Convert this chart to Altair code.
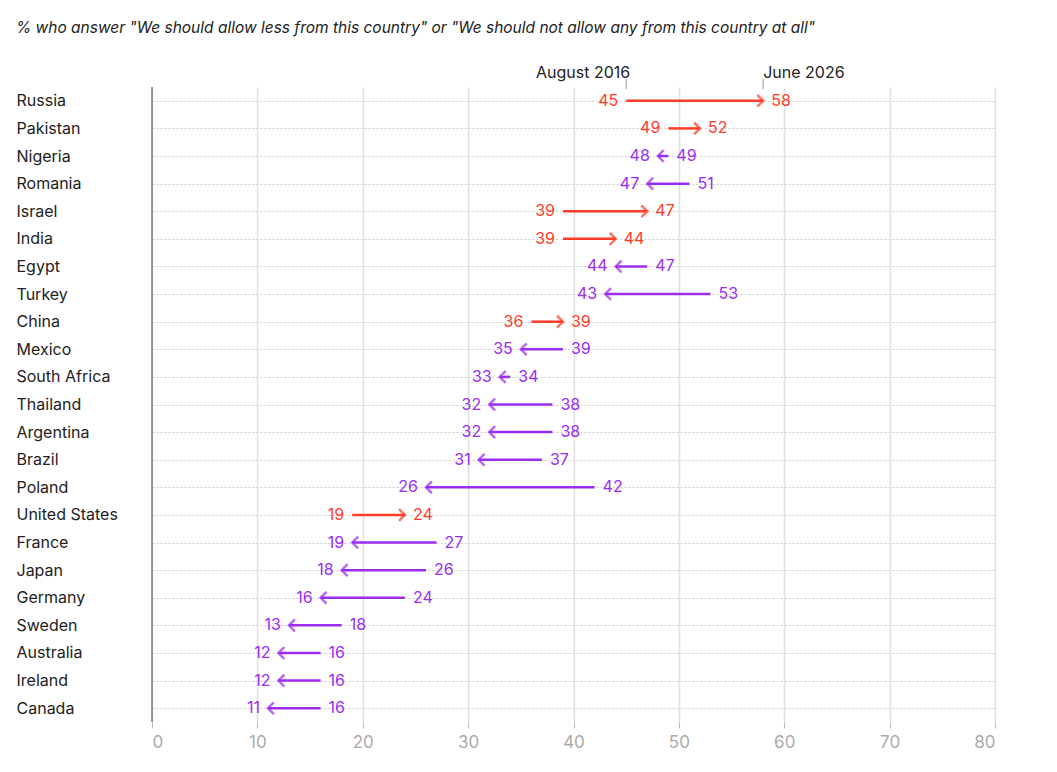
import altair as alt
import pandas as pd

countries = ["Russia","Pakistan","Nigeria","Romania","Israel","India","Egypt","Turkey","China","Mexico",
             "South Africa","Thailand","Argentina","Brazil","Poland","United States","France","Japan",
             "Germany","Sweden","Australia","Ireland","Canada"]
v2016 = [45,49,49,51,39,39,47,53,36,39,34,38,38,37,42,19,27,26,24,18,16,16,16]
v2026 = [58,52,48,47,47,44,44,43,39,35,33,32,32,31,26,24,19,18,16,13,12,12,11]

df = pd.DataFrame({"country": countries, "a": v2016, "b": v2026})
df["lo"] = df[["a","b"]].min(axis=1)
df["hi"] = df[["a","b"]].max(axis=1)
df["dir"] = ["up" if b > a else "down" for a, b in zip(v2016, v2026)]
df["ang"] = [0 if d == "up" else 180 for d in df["dir"]]

RED, PUR = "#ff3b2a", "#9b2cf0"
FONT = "Inter"
color = alt.Color("dir:N", scale=alt.Scale(domain=["up","down"], range=[RED, PUR]), legend=None)
xs = alt.Scale(domain=[0, 80], nice=False)
ys = alt.Scale(domain=countries, type="point", padding=0.5)

base = alt.Chart(df)
y = alt.Y("country:N", scale=ys, sort=countries,
          axis=alt.Axis(title=None, labelAlign="left", labelPadding=136, ticks=False, domain=False,
                        labelFontSize=16, labelColor="#222", labelFont=FONT,
                        grid=True, gridDash=[2, 2], gridColor="#cccccc"))
x = alt.X("a:Q", scale=xs,
          axis=alt.Axis(title=None, values=list(range(0, 81, 10)), grid=True, gridColor="#e0e0e0",
                        gridWidth=1.5, domain=False, ticks=True, tickColor="#bbb", tickSize=6,
                        labelFontSize=17, labelColor="#aaa", labelFont=FONT, labelPadding=6))

grid = base.mark_point(opacity=0).encode(x=x, y=y)
zero = alt.Chart(pd.DataFrame({"z": [0]})).mark_rule(color="#444", strokeWidth=1).encode(x=alt.X("z:Q", scale=xs))
lines = base.mark_rule(strokeWidth=2.5).encode(x=alt.X("a:Q", scale=xs), x2="b:Q", y=alt.Y("country:N", scale=ys, sort=countries), color=color)
heads = base.mark_point(shape="M-1,-1L0,0L-1,1", filled=False, strokeWidth=2.5, size=140).encode(
    x=alt.X("b:Q", scale=xs), y=alt.Y("country:N", scale=ys, sort=countries), color=color, angle=alt.Angle("ang:Q", scale=None))
lo_t = base.mark_text(align="right", dx=-8, fontSize=16, font=FONT).encode(
    x=alt.X("lo:Q", scale=xs), y=alt.Y("country:N", scale=ys, sort=countries), text="lo:Q", color=color)
hi_t = base.mark_text(align="left", dx=8, fontSize=16, font=FONT).encode(
    x=alt.X("hi:Q", scale=xs), y=alt.Y("country:N", scale=ys, sort=countries), text="hi:Q", color=color)

ann = pd.DataFrame({"v": [45, 58], "lab": ["August 2016", "June 2026"], "al": ["right", "left"]})
ann_r = alt.Chart(ann).mark_rule(color="#999").encode(x=alt.X("v:Q", scale=xs), y=alt.value(-8), y2=alt.value(2))
ann_t1 = alt.Chart(ann[ann.al == "right"]).mark_text(align="right", fontSize=16, font=FONT, color="#222", dx=4).encode(
    x=alt.X("v:Q", scale=xs), y=alt.value(-14), text="lab:N")
ann_t2 = alt.Chart(ann[ann.al == "left"]).mark_text(align="left", fontSize=16, font=FONT, color="#222").encode(
    x=alt.X("v:Q", scale=xs), y=alt.value(-14), text="lab:N")
title = alt.Chart(pd.DataFrame({"t": ['% who answer "We should allow less from this country" or "We should not allow any from this country at all"']})).mark_text(
    align="left", fontSize=15.5, font=FONT, fontStyle="italic", color="#222").encode(
    x=alt.value(-136), y=alt.value(-59), text="t:N")

chart = alt.layer(grid, zero, lines, heads, lo_t, hi_t, ann_r, ann_t1, ann_t2, title).properties(
    width=843, height=635, autosize=alt.AutoSizeParams(type="none"),
    padding={"left": 144, "top": 79, "right": 40, "bottom": 40}
).configure_view(stroke=None)

chart.save("out.html", embed_options={"renderer": "svg", "actions": False})
